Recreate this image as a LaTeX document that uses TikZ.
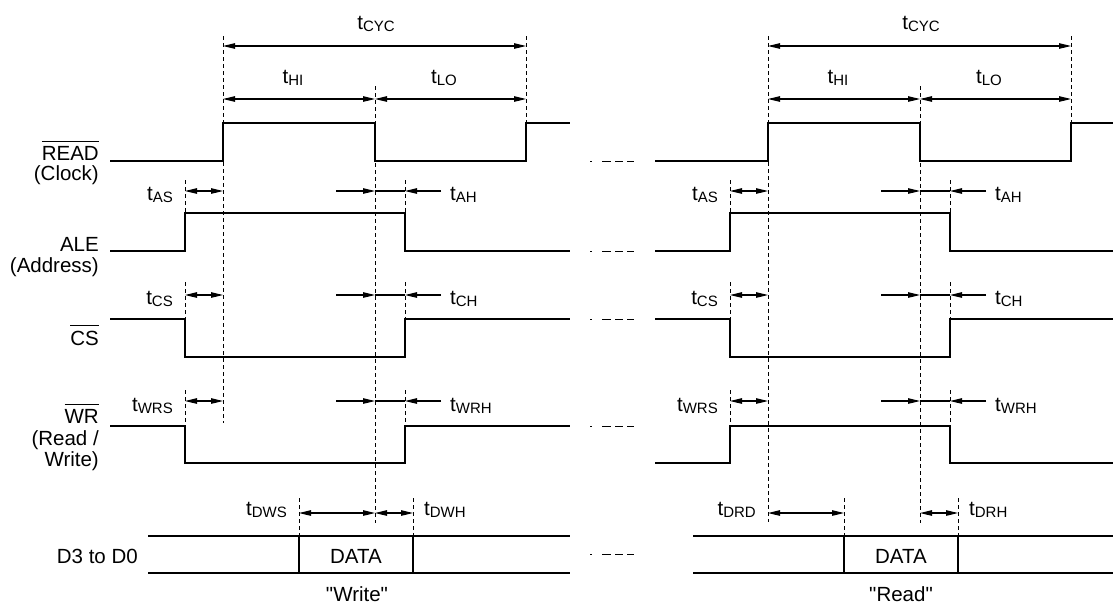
\documentclass[tikz,border=0pt]{standalone}
\usepackage{fontspec}
\setmainfont{Liberation Sans}[Ligatures=TeXOff]
\usetikzlibrary{arrows.meta}
\newcommand\ovl[1]{\vbox{\hrule height 0.9pt\kern 4.5pt\hbox{#1}}}
\newcommand\tsub[1]{t\raisebox{-2pt}{\fontsize{15}{15}\selectfont #1}}
\begin{document}
\begin{tikzpicture}[x=1pt,y=-1pt,
  sig/.style={line width=1.2pt, line join=miter},
  guide/.style={line width=0.9pt, dash pattern=on 4pt off 3pt},
  dim/.style={line width=1.1pt, {Triangle[length=12pt,width=5.5pt]}-{Triangle[length=12pt,width=5.5pt]}},
  tip/.style={line width=1.1pt, -{Triangle[length=12pt,width=5.5pt]}},
  lbl/.style={font=\fontsize{20.5}{21}\selectfont, inner sep=0pt},
  gap/.style={line width=1pt, dash pattern=on 1.5pt off 10.5pt on 9pt off 4pt on 8pt off 4pt on 7pt off 50pt}
]
\useasboundingbox (0,0) rectangle (1113,606);

% ---------- signal names ----------
\node[lbl, anchor=base east] (nread) at (99,160) {\ovl{READ}};
\node[lbl, anchor=base east] (nclock) at (99,180) {(Clock)};
\node[lbl, anchor=base east] (nale) at (99,251) {ALE};
\node[lbl, anchor=base east] (naddr) at (99,272) {(Address)};
\node[lbl, anchor=base east] (ncs) at (99,345) {\ovl{CS}};
\node[lbl, anchor=base east] (nwr) at (99,423) {\ovl{WR}};
\node[lbl, anchor=base east] (nrw1) at (99,445) {(Read /};
\node[lbl, anchor=base east] (nrw2) at (99,466) {Write)};
\node[lbl, anchor=base east] (nd) at (138,563) {D3 to D0};

% ---------- gap marks ----------
\foreach \yy in {161,251,319,426,554}
  \draw[gap] (590,\yy) -- (640,\yy);

% ---------- both panels ----------
\foreach \sx/\nm in {0/w,545/r}{
\begin{scope}[xshift=\sx pt]
  % guides
  \draw[guide] (375,86) -- (375,523);
  \draw[guide] (526,36) -- (526,123);
  \foreach \gx in {185,405}{
    \draw[guide] (\gx,180) -- (\gx,213);
    \draw[guide] (\gx,282) -- (\gx,319);
    \draw[guide] (\gx,390) -- (\gx,426);
  }
  \draw[guide] (299,498) -- (299,536);
  \draw[guide] (413,498) -- (413,536);
  % signals
  \draw[sig] (110,161) -- (223,161) -- (223,123) -- (375,123) -- (375,161) -- (526,161) -- (526,123) -- (570,123);
  \draw[sig] (110,251) -- (185,251) -- (185,213) -- (405,213) -- (405,251) -- (570,251);
  \draw[sig] (110,319) -- (185,319) -- (185,357) -- (405,357) -- (405,319) -- (570,319);
  \draw[sig] (148,536) -- (570,536);
  \draw[sig] (148,573) -- (570,573);
  \draw[sig] (299,536) rectangle (413,573);
  \node[lbl, anchor=base] (data\nm) at (356,563) {DATA};
  % dimensions
  \draw[dim] (223,46) -- (526,46);
  \draw[dim] (223,99) -- (375,99);
  \draw[dim] (375,99) -- (526,99);
  \node[lbl, anchor=base] (cyc\nm) at (376,29) {\tsub{CYC}};
  \node[lbl, anchor=base] (hi\nm) at (293,83) {\tsub{HI}};
  \node[lbl, anchor=base] (lo\nm) at (444,83) {\tsub{LO}};
  \foreach \yy/\sa/\ha/\ys in {191/AS/AH/200, 295/CS/CH/304, 401/WRS/WRH/411}{
    \draw[dim] (185,\yy) -- (223,\yy);
    \draw[tip] (336,\yy) -- (375,\yy);
    \draw[line width=1.1pt] (375,\yy) -- (405,\yy);
    \draw[tip] (441,\yy) -- (405,\yy);
    \node[lbl, anchor=base east] at (173,\ys) {\tsub{\sa}};
    \node[lbl, anchor=base west] at (450,\ys) {\tsub{\ha}};
  }
\end{scope}
}

% ---------- left panel (write) ----------
\draw[guide] (223,36) -- (223,423);
\draw[sig] (110,426) -- (185,426) -- (185,463) -- (405,463) -- (405,426) -- (570,426);
\draw[dim] (299,513) -- (375,513);
\draw[dim] (375,513) -- (413,513);
\node[lbl, anchor=base east] (dws) at (287,515) {\tsub{DWS}};
\node[lbl, anchor=base west] (dwh) at (424,515) {\tsub{DWH}};
\node[lbl, anchor=base] (wlab) at (357,601) {"Write"};

% ---------- right panel (read) ----------
\draw[guide] (768,36) -- (768,522);
\draw[sig] (655,463) -- (730,463) -- (730,426) -- (950,426) -- (950,463) -- (1115,463);
\draw[dim] (768,513) -- (844,513);
\draw[dim] (920,513) -- (958,513);
\node[lbl, anchor=base east] (drd) at (756,515) {\tsub{DRD}};
\node[lbl, anchor=base west] (drh) at (969,515) {\tsub{DRH}};
\node[lbl, anchor=base] (rlab) at (901,601) {"Read"};
\end{tikzpicture}
\end{document}
